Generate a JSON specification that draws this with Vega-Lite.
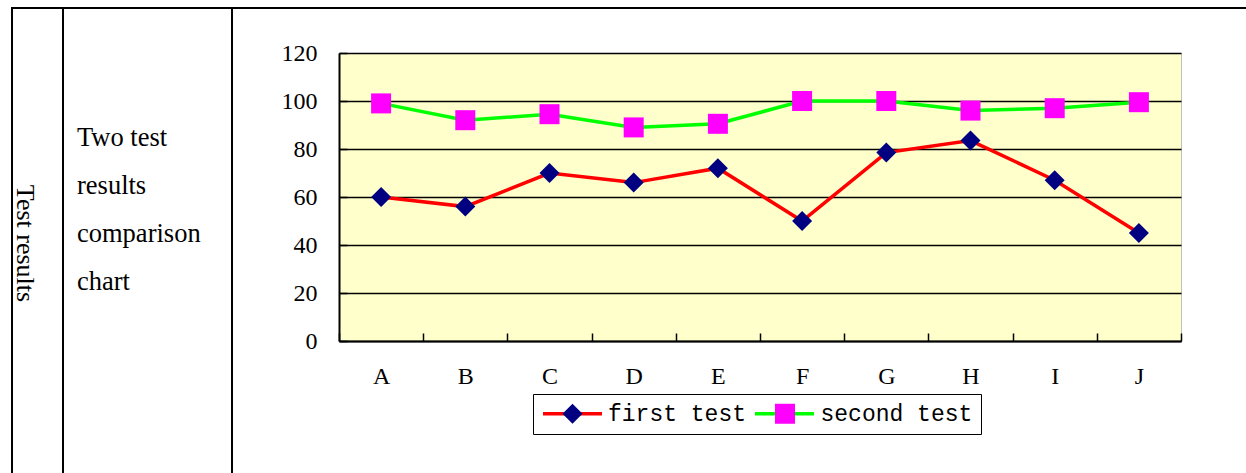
{
  "$schema": "https://vega.github.io/schema/vega-lite/v6.json",
  "padding": {"left": 11, "top": 7, "right": 0, "bottom": 0},
  "spacing": 0,
  "bounds": "flush",
  "config": {"view": {"stroke": null}, "font": "Liberation Serif"},
  "vconcat": [
    {"width": 1233, "height": 0.01, "view": {"stroke": "black", "strokeWidth": 2}, "data": {"values": []}, "mark": "point"},
    {
      "spacing": 0,
      "bounds": "flush",
      "hconcat": [
        {"width": 0.01, "height": 463, "view": {"stroke": "black", "strokeWidth": 2}, "data": {"values": []}, "mark": "point"},
        {
          "width": 50, "height": 463,
          "data": {"values": [{"label": "Test results"}]},
          "mark": {"type": "text", "angle": 90, "baseline": "top", "align": "center", "fontSize": 26, "dx": 3, "color": "black"},
          "encoding": {"text": {"field": "label"}}
        },
        {"width": 0.01, "height": 463, "view": {"stroke": "black", "strokeWidth": 2}, "data": {"values": []}, "mark": "point"},
        {
          "width": 168, "height": 463,
          "data": {"values": [
            {"line": 1, "text": "Two test"},
            {"line": 2, "text": "results"},
            {"line": 3, "text": "comparison"},
            {"line": 4, "text": "chart"}
          ]},
          "mark": {"type": "text", "align": "left", "baseline": "alphabetic", "fontSize": 26.5, "color": "black"},
          "encoding": {
            "x": {"datum": 0, "type": "quantitative", "scale": {"domain": [-13, 155], "nice": false, "zero": false}, "axis": null},
            "y": {"field": "line", "type": "quantitative", "scale": {"domain": [-1.854, 7.792], "nice": false, "zero": false, "reverse": true}, "axis": null},
            "text": {"field": "text"}
          }
        },
        {"width": 0.01, "height": 463, "view": {"stroke": "black", "strokeWidth": 2}, "data": {"values": []}, "mark": "point"},
        {"width": 106, "height": 0.01, "data": {"values": []}, "mark": "point"},
        {
          "spacing": 0,
          "bounds": "flush",
          "vconcat": [
            {"width": 0.01, "height": 44, "data": {"values": []}, "mark": "point"},
            {
              "width": 842, "height": 288,
              "view": {"fill": "#FFFFCC", "stroke": "#BFBFBF", "strokeWidth": 1},
              "data": {"values": [
                {"student": "A", "test": "first test", "score": 60},
                {"student": "B", "test": "first test", "score": 56},
                {"student": "C", "test": "first test", "score": 70},
                {"student": "D", "test": "first test", "score": 66},
                {"student": "E", "test": "first test", "score": 72},
                {"student": "F", "test": "first test", "score": 50},
                {"student": "G", "test": "first test", "score": 78.5},
                {"student": "H", "test": "first test", "score": 83.5},
                {"student": "I", "test": "first test", "score": 67},
                {"student": "J", "test": "first test", "score": 45},
                {"student": "A", "test": "second test", "score": 99},
                {"student": "B", "test": "second test", "score": 92},
                {"student": "C", "test": "second test", "score": 94.5},
                {"student": "D", "test": "second test", "score": 89},
                {"student": "E", "test": "second test", "score": 90.5},
                {"student": "F", "test": "second test", "score": 100},
                {"student": "G", "test": "second test", "score": 100},
                {"student": "H", "test": "second test", "score": 96},
                {"student": "I", "test": "second test", "score": 97},
                {"student": "J", "test": "second test", "score": 99.5}
              ]},
              "encoding": {
                "x": {
                  "field": "student", "type": "nominal",
                  "scale": {"type": "band", "paddingInner": 0, "paddingOuter": 0},
                  "axis": {"title": null, "labelAngle": 0, "labelFontSize": 24, "labelColor": "black", "labelPadding": 31, "tickBand": "extent", "tickSize": -8, "tickColor": "black", "tickWidth": 1.5, "domainColor": "black", "domainWidth": 2, "grid": false}
                },
                "y": {
                  "field": "score", "type": "quantitative",
                  "scale": {"domain": [0, 120], "nice": false},
                  "axis": {"title": null, "values": [0, 20, 40, 60, 80, 100, 120], "labelFontSize": 24, "labelColor": "black", "labelPadding": 30, "tickSize": -8, "tickColor": "black", "tickWidth": 1.5, "domainColor": "black", "domainWidth": 2, "grid": true, "gridColor": "black", "gridWidth": 1.5}
                }
              },
              "layer": [
                {
                  "mark": {"type": "line", "strokeWidth": 3.5},
                  "encoding": {
                    "color": {
                      "field": "test", "type": "nominal",
                      "scale": {"domain": ["first test", "second test"], "range": ["#FF0000", "#00FF00"]},
                      "legend": {
                        "orient": "none", "legendX": 529, "legendY": 374, "direction": "horizontal", "title": null,
                        "symbolType": "stroke", "symbolSize": 3481, "symbolStrokeWidth": 3.5,
                        "labelFont": "Liberation Mono", "labelFontSize": 23, "labelOpacity": 0, "labelOffset": 5,
                        "columnPadding": 0, "padding": 0
                      }
                    }
                  }
                },
                {
                  "mark": {"type": "point", "filled": true, "size": 400, "opacity": 1, "strokeWidth": 0},
                  "encoding": {
                    "fill": {
                      "field": "test", "type": "nominal",
                      "scale": {"range": ["#000080", "#FF00FF"]},
                      "legend": {
                        "orient": "none", "legendX": 521, "legendY": 386, "direction": "horizontal", "title": null,
                        "symbolSize": 400, "symbolStrokeWidth": 0, "symbolOffset": 20,
                        "labelFont": "Liberation Mono", "labelFontSize": 23, "labelColor": "black", "labelOffset": 24,
                        "columnPadding": 6.5, "padding": 8, "strokeColor": "black",
                        "encode": {"legend": {"update": {"strokeWidth": {"value": 2}}}}
                      }
                    },
                    "shape": {
                      "field": "test", "type": "nominal",
                      "scale": {"range": ["diamond", "square"]}
                    }
                  }
                }
              ]
            }
          ]
        }
      ]
    }
  ]
}
